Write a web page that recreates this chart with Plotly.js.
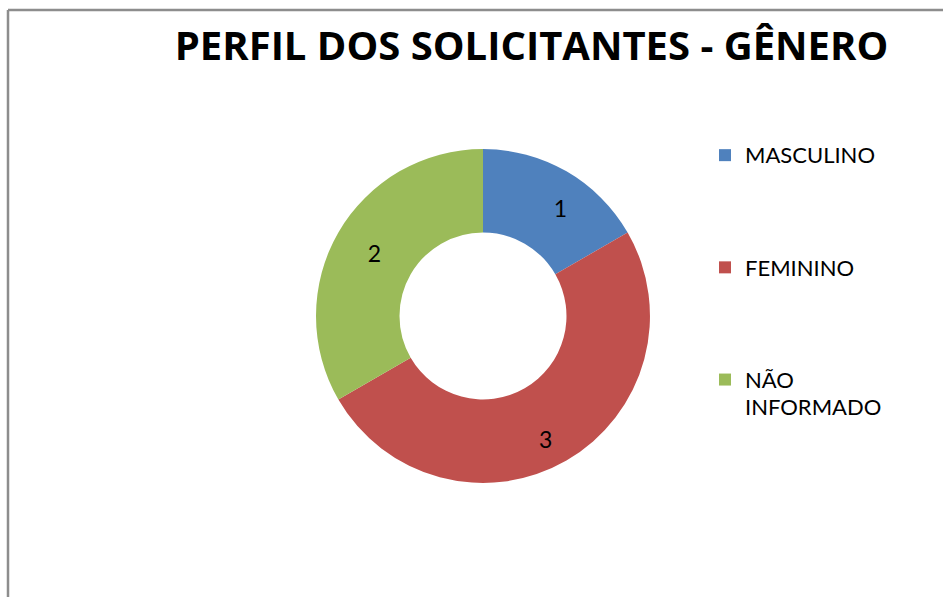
<!DOCTYPE html>
<html>
<head>
<meta charset="utf-8">
<script src="https://cdn.plot.ly/plotly-3.0.1.min.js"></script>
<style>
html,body{margin:0;padding:0;background:#fff;}
#chart{width:943px;height:597px;}
</style>
</head>
<body>
<div id="chart"></div>
<script>
const categories = ["MASCULINO", "FEMININO", "NÃO<br>INFORMADO"];
const values = [1, 3, 2];
const colors = ["#4F81BD", "#C0504D", "#9BBB59"];
const titleText = "PERFIL DOS SOLICITANTES - GÊNERO";

// pad legend entries with blank lines to mimic the wide spacing of the original legend
const legendLabels = categories.map((c, i) => {
  const styled = '<span style="font-size:22px">' + c.split("<br>").join('</span><br><span style="font-size:22px">') + '</span>';
  return i < categories.length - 1 ? styled + "<br> <br> <br> " : styled;
});

const W = 943, H = 597;
const cx = 483, cy = 316, R = 167;

const trace = {
  type: "pie",
  labels: legendLabels,
  values: values,
  hole: 0.5,
  sort: false,
  direction: "clockwise",
  rotation: 0,
  marker: {colors: colors, line: {width: 0}},
  textinfo: "value",
  texttemplate: ["&nbsp;&nbsp;&nbsp;&nbsp;&nbsp;%{value}", "&nbsp;<br>%{value}", "%{value}"],
  textposition: "inside",
  insidetextorientation: "horizontal",
  textfont: {family: "Lato, sans-serif", size: 23, color: "#000"},
  domain: {x: [(cx - R) / W, (cx + R) / W], y: [1 - (cy + R) / H, 1 - (cy - R) / H]},
  hoverinfo: "value"
};

const layout = {
  width: W, height: H,
  margin: {l: 0, r: 0, t: 0, b: 0},
  paper_bgcolor: "#fff",
  showlegend: true,
  title: {
    text: "<b>" + titleText + "</b>",
    font: {family: "Open Sans, sans-serif", size: 40, color: "#000"},
    x: 531.5 / W, xanchor: "center",
    y: 1 - 46 / H, yanchor: "middle"
  },
  legend: {
    x: 705 / W, xanchor: "left",
    y: 1 - 135 / H, yanchor: "top",
    valign: "top",
    font: {family: "Lato, sans-serif", size: 21, color: "#000"},
    bgcolor: "rgba(0,0,0,0)",
    traceorder: "normal"
  },
  shapes: [
    {type: "line", xref: "paper", yref: "paper", x0: 8 / W, x1: 8 / W, y0: 0, y1: 1 - 10 / H,
     line: {color: "#8d8d8d", width: 2.5}},
    {type: "line", xref: "paper", yref: "paper", x0: 8 / W, x1: 1, y0: 1 - 10 / H, y1: 1 - 10 / H,
     line: {color: "#8d8d8d", width: 2.5}}
  ]
};

Plotly.newPlot("chart", [trace], layout, {displayModeBar: false, staticPlot: true});
</script>
</body>
</html>
